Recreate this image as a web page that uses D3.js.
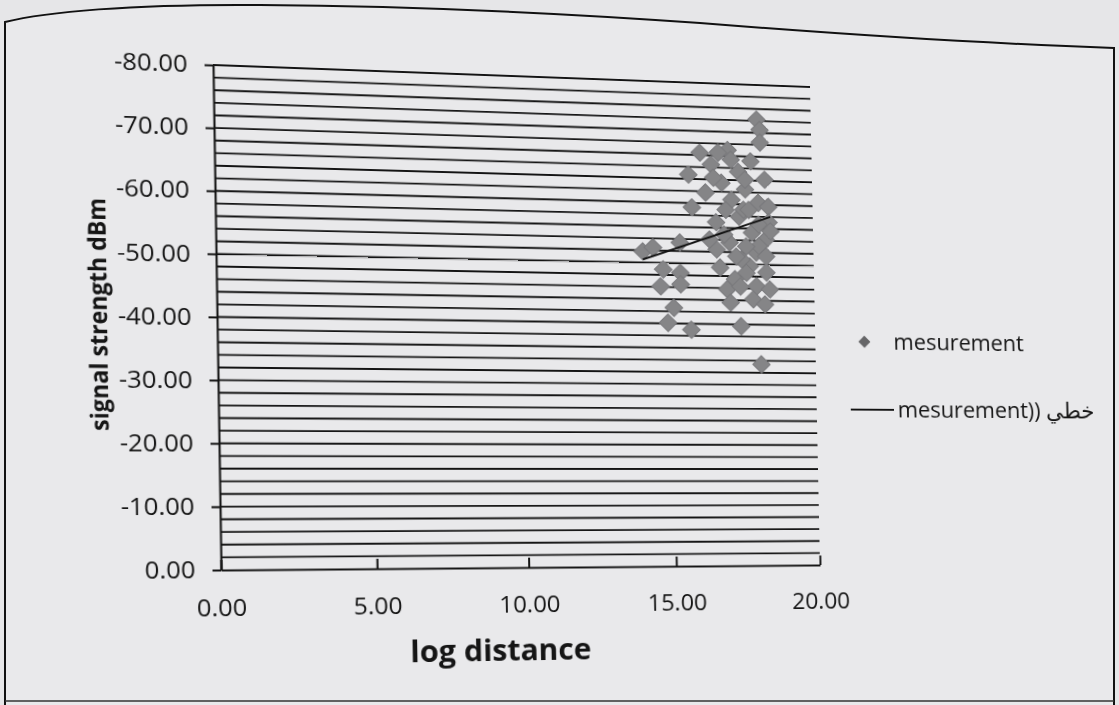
<!DOCTYPE html>
<html>
<head>
<meta charset="utf-8">
<script src="https://cdn.jsdelivr.net/npm/d3@7"></script>
<style>
  html, body { margin: 0; padding: 0; background: #e6e6e8; }
  body { width: 1119px; height: 705px; overflow: hidden; position: relative; }
  svg { position: absolute; left: 0; top: 0; }
  #chart { transform-origin: 0 0; }
  text { font-family: "Open Sans", "DejaVu Sans", sans-serif; fill: #151515; }
</style>
</head>
<body>
<svg id="paper" width="1119" height="705"></svg>
<svg id="chart" width="1119" height="705"></svg>
<script>
// Measured points: log distance vs received signal strength (dBm)
const logDistance = [
  18.09, 18.19, 18.19, 16.09, 17.06, 17.85, 16.47, 15.68, 17.41, 18.33,
  16.82, 17.64, 16.26, 17.16, 18.09, 15.78, 18.44, 16.61, 17.41, 18.44,
  15.34, 14.06, 14.41, 16.61, 17.85, 18.33, 17.06, 17.98, 14.75, 15.34,
  17.75, 18.33, 14.65, 15.34, 16.95, 17.98, 18.44, 17.85, 15.09, 17.06,
  14.88, 15.68, 17.41, 18.09, 17.57, 16.88, 17.47, 18.09, 16.72, 17.23,
  18.26, 18.50, 17.63, 17.29, 18.09, 16.54, 17.75, 16.95, 16.37, 17.64,
  17.41, 18.33, 17.64, 17.16, 16.72
];
const signalStrength = [
  -74.2, -72.5, -70.4, -68.4, -69.0, -67.2, -66.5, -64.7, -65.4, -64.2,
  -63.5, -62.5, -61.8, -60.7, -60.3, -59.3, -59.7, -56.9, -57.9, -57.1,
  -53.4, -51.8, -52.5, -52.4, -55.3, -54.2, -53.6, -52.0, -48.9, -48.4,
  -49.7, -48.7, -46.1, -46.5, -45.8, -46.4, -45.9, -44.2, -42.6, -43.6,
  -40.1, -39.0, -39.7, -33.4, -59.1, -54.9, -50.8, -56.7, -49.4, -47.5,
  -43.4, -55.6, -48.6, -51.3, -53.1, -64.3, -59.1, -59.0, -54.0, -53.0,
  -46.3, -51.4, -64.1, -67.4, -68.5
];

// Linear trend line end points
const trendDistance = [14.06, 18.50];
const trendSignal = [-50.5, -58.0];

// Axes
const xTickValues = [0, 5, 10, 15, 20];
const yTickValues = [0, -10, -20, -30, -40, -50, -60, -70, -80];
const xDomain = [0, 20];
const yDomain = [0, -80];

const xTitle = "log distance";
const yTitle = "signal strength dBm";
const seriesName = "mesurement";
const trendName = "mesurement)) خطي";

// ---------------------------------------------------------------
const fmt = d3.formatLocale({ decimal: ".", thousands: ",", grouping: [3], currency: ["", ""], minus: "-" }).format(".2f");

const plot = { left: 213, right: 810, top: 65, bottom: 570 };

const x = d3.scaleLinear().domain(xDomain).range([plot.left, plot.right]);
const y = d3.scaleLinear().domain(yDomain).range([plot.bottom, plot.top]);

// Page frame (the printed chart border, curved where the sheet bends)
const paper = d3.select("#paper");
paper.append("path")
  .attr("d", "M5,705 L5,22 C45,12 130,4 260,5 C420,6 560,13 700,23 C850,35 1000,44 1114,48 L1114,705")
  .attr("fill", "#e9e9eb")
  .attr("stroke", "#111")
  .attr("stroke-width", 2);
paper.append("line")
  .attr("x1", 5).attr("x2", 1114).attr("y1", 701).attr("y2", 701)
  .attr("stroke", "#333").attr("stroke-width", 1.5);

const svg = d3.select("#chart");

// Horizontal grid every 2 dBm
const gridValues = y.ticks(40).filter(v => v !== 0);
svg.append("g")
  .selectAll("line")
  .data(gridValues)
  .join("line")
  .attr("x1", x(xDomain[0]))
  .attr("x2", x(xDomain[1]))
  .attr("y1", d => y(d))
  .attr("y2", d => y(d))
  .attr("stroke", "#141414")
  .attr("stroke-width", 1.9);

// Y axis
const yAxis = svg.append("g")
  .attr("transform", `translate(${plot.left},0)`)
  .call(d3.axisLeft(y).tickValues(yTickValues).tickFormat(fmt).tickSize(8).tickSizeOuter(0).tickPadding(16));
yAxis.selectAll("path, line").attr("stroke", "#141414").attr("stroke-width", 2);
yAxis.selectAll("text").attr("font-size", 24).style("fill", "#151515");

// X axis (ticks point into the plot)
const xAxis = svg.append("g")
  .attr("transform", `translate(0,${plot.bottom})`)
  .call(d3.axisBottom(x).tickValues(xTickValues).tickFormat(fmt).tickSize(-10).tickSizeOuter(0).tickPadding(29));
xAxis.selectAll("path, line").attr("stroke", "#141414").attr("stroke-width", 2);
xAxis.selectAll("text").attr("font-size", 24).style("fill", "#151515");

// Axis titles
svg.append("text")
  .attr("transform", `translate(102,${(plot.top + plot.bottom) / 2 - 1}) rotate(-90)`)
  .attr("text-anchor", "middle")
  .attr("dy", "0.35em")
  .attr("font-size", 23)
  .attr("font-weight", "bold")
  .text(yTitle);

svg.append("text")
  .attr("x", 483)
  .attr("y", 665)
  .attr("text-anchor", "middle")
  .attr("font-size", 30)
  .attr("font-weight", "bold")
  .text(xTitle);

// Scatter points (diamonds)
const diamond = d3.symbol().type(d3.symbolSquare).size(165)();
const pts = logDistance.map((d, i) => ({ x: d, y: signalStrength[i] }));
svg.append("g")
  .selectAll("path")
  .data(pts)
  .join("path")
  .attr("d", diamond)
  .attr("transform", d => `translate(${x(d.x)},${y(d.y)}) rotate(45)`)
  .attr("fill", "#858587")
  .attr("stroke", "#79797c")
  .attr("stroke-width", 1);

// Trend line
svg.append("path")
  .datum(trendDistance.map((d, i) => [d, trendSignal[i]]))
  .attr("d", d3.line().x(d => x(d[0])).y(d => y(d[1])))
  .attr("fill", "none")
  .attr("stroke", "#111")
  .attr("stroke-width", 2);

// Legend
const legend = svg.append("g");
legend.append("path")
  .attr("d", d3.symbol().type(d3.symbolSquare).size(82)())
  .attr("transform", "translate(862,334) rotate(45)")
  .attr("fill", "#666668");
legend.append("text")
  .attr("x", 893).attr("y", 334).attr("dy", "0.35em")
  .attr("font-size", 23.5)
  .text(seriesName);
legend.append("line")
  .attr("x1", 846).attr("x2", 892).attr("y1", 406).attr("y2", 406)
  .attr("stroke", "#111").attr("stroke-width", 2);
legend.append("text")
  .attr("x", 896).attr("y", 406).attr("dy", "0.35em")
  .attr("font-size", 23.5)
  .attr("direction", "ltr")
  .text(trendName);

// Perspective of the photographed sheet: map the plot rectangle onto its
// slightly skewed quadrilateral with a projective (matrix3d) transform.
function homography(src, dst) {
  const A = [], B = [];
  for (let i = 0; i < 4; i++) {
    const [sx, sy] = src[i], [dx, dy] = dst[i];
    A.push([sx, sy, 1, 0, 0, 0, -sx * dx, -sy * dx]); B.push(dx);
    A.push([0, 0, 0, sx, sy, 1, -sx * dy, -sy * dy]); B.push(dy);
  }
  const n = 8;
  for (let c = 0; c < n; c++) {
    let p = c;
    for (let r = c + 1; r < n; r++) if (Math.abs(A[r][c]) > Math.abs(A[p][c])) p = r;
    [A[c], A[p]] = [A[p], A[c]]; [B[c], B[p]] = [B[p], B[c]];
    for (let r = 0; r < n; r++) {
      if (r === c) continue;
      const f = A[r][c] / A[c][c];
      for (let k = c; k < n; k++) A[r][k] -= f * A[c][k];
      B[r] -= f * B[c];
    }
  }
  return B.map((b, i) => b / A[i][i]);
}
const src = [[plot.left, plot.top], [plot.right, plot.top], [plot.left, plot.bottom], [plot.right, plot.bottom]];
const dst = [[213, 65], [810, 87], [221, 570], [820, 565]];
const [a, b, c, d, e, f, g, h] = homography(src, dst);
document.getElementById("chart").style.transform =
  `matrix3d(${a},${d},0,${g},${b},${e},0,${h},0,0,1,0,${c},${f},0,1)`;
</script>
</body>
</html>
